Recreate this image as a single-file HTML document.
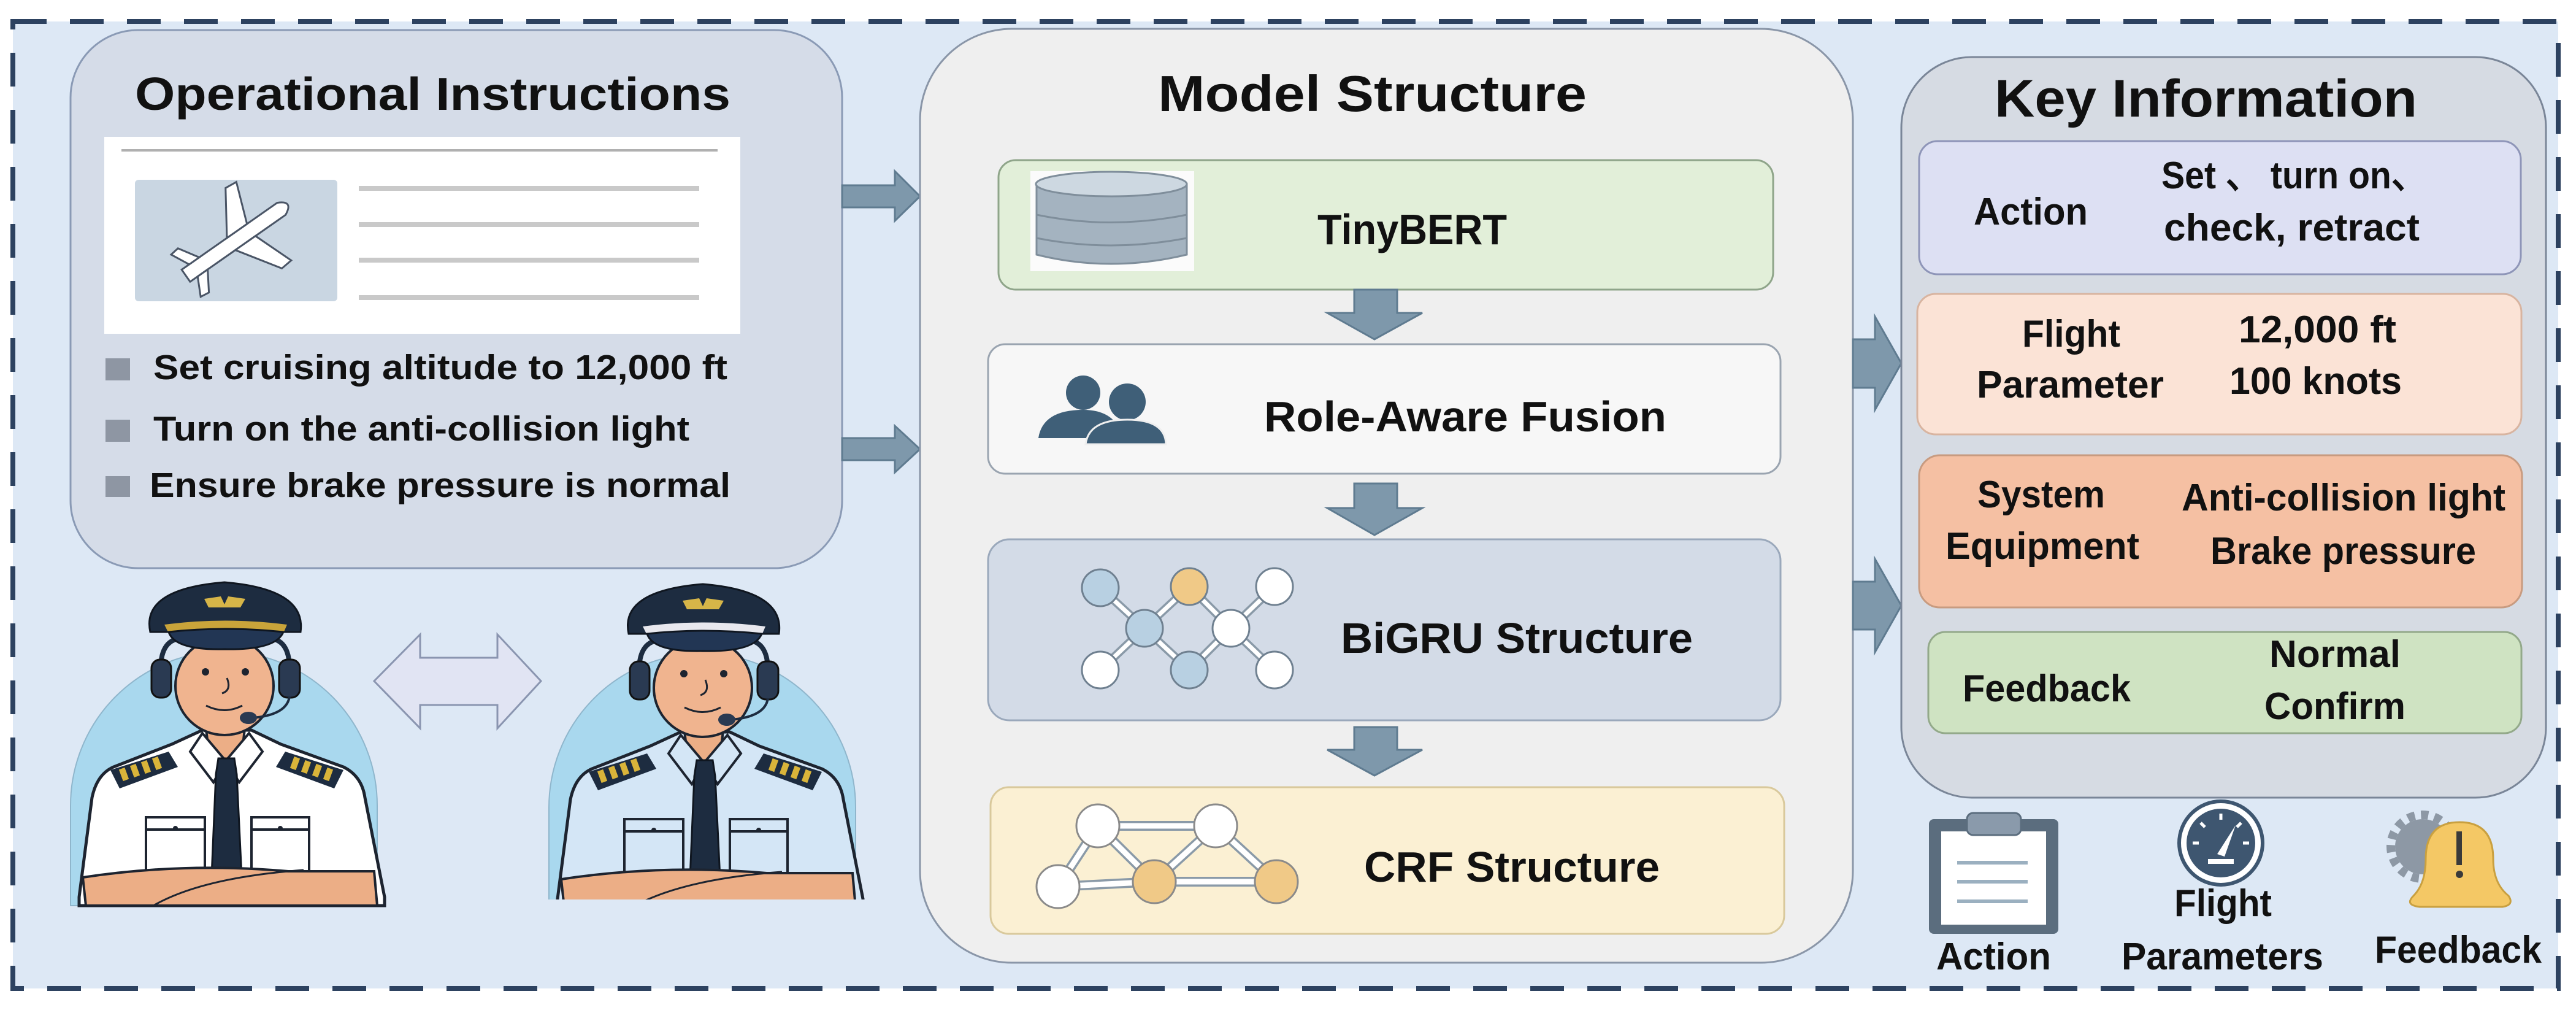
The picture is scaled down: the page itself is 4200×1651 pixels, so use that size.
<!DOCTYPE html>
<html><head><meta charset="utf-8"><style>
html,body{margin:0;padding:0;background:#fff;}
svg{display:block;}
text{font-family:"Liberation Sans",sans-serif;font-weight:bold;fill:#111;}
</style></head><body>
<svg width="4200" height="1651" viewBox="0 0 4200 1651" xmlns="http://www.w3.org/2000/svg">
<defs>
<g id="pilot">
  <path d="M115,1476 L115,1313 A250,251 0 0 1 615,1313 L615,1476 Z" fill="#a9d8ee" stroke="#8fb6cc" stroke-width="2"/>
  <path d="M280,1213 L330,1190 L410,1190 L458,1213 L560,1250 Q590,1265 595,1300 L627,1462 L627,1476 L129,1476 L129,1462 L150,1300 Q158,1262 185,1250 Z" style="fill:var(--shirt,#ffffff)" stroke="#1d2430" stroke-width="5"/>
  <path d="M335,1180 L400,1180 L395,1222 L368,1240 L340,1222 Z" fill="#ecae86" stroke="#1d2430" stroke-width="4"/>
  <path d="M330,1195 L368,1240 L348,1275 L310,1225 Z" style="fill:var(--shirt,#ffffff)" stroke="#1d2430" stroke-width="4"/>
  <path d="M406,1195 L368,1240 L390,1275 L428,1225 Z" style="fill:var(--shirt,#ffffff)" stroke="#1d2430" stroke-width="4"/>
  <path d="M356,1236 L382,1236 L386,1262 L394,1428 L345,1428 L352,1262 Z" fill="#1d2c40" stroke="#0f1620" stroke-width="3"/>
  <path d="M180,1255 L275,1225 L290,1250 L195,1285 Z" fill="#1d2c40"/>
  <path d="M560,1255 L465,1225 L450,1250 L545,1285 Z" fill="#1d2c40"/>
  <g fill="#d9b43a"><rect x="197" y="1252" width="10" height="20" transform="rotate(-20 202 1262)"/><rect x="215" y="1246" width="10" height="20" transform="rotate(-20 220 1256)"/><rect x="233" y="1240" width="10" height="20" transform="rotate(-20 238 1250)"/><rect x="251" y="1234" width="10" height="20" transform="rotate(-20 256 1244)"/>
  <rect x="476" y="1234" width="10" height="20" transform="rotate(20 481 1244)"/><rect x="494" y="1240" width="10" height="20" transform="rotate(20 499 1250)"/><rect x="512" y="1246" width="10" height="20" transform="rotate(20 517 1256)"/><rect x="530" y="1252" width="10" height="20" transform="rotate(20 535 1262)"/></g>
  <g fill="none" stroke="#1d2430" stroke-width="4"><rect x="238" y="1332" width="96" height="90"/><path d="M238,1352 L334,1352"/><rect x="410" y="1332" width="94" height="90"/><path d="M410,1352 L504,1352"/></g>
  <circle cx="286" cy="1350" r="4" fill="#1d2430"/><circle cx="457" cy="1350" r="4" fill="#1d2430"/>
  <path d="M135,1430 Q300,1405 470,1420 L610,1420 L615,1476 L140,1476 Z" fill="#ecae86" stroke="#1d2430" stroke-width="4"/>
  <path d="M250,1476 Q330,1430 495,1418" fill="none" stroke="#1d2430" stroke-width="3"/>
  <ellipse cx="366" cy="1118" rx="80" ry="80" fill="#f0b48f" stroke="#1d2430" stroke-width="4"/>
  <circle cx="335" cy="1095" r="6" fill="#1d2430"/><circle cx="400" cy="1095" r="6" fill="#1d2430"/>
  <path d="M336,1150 Q366,1165 395,1150" fill="none" stroke="#1d2430" stroke-width="3"/>
  <path d="M370,1105 Q378,1125 362,1130" fill="none" stroke="#1d2430" stroke-width="3"/>
  <path d="M262,1090 Q262,1040 300,1040 M472,1090 Q472,1040 435,1040" fill="none" stroke="#1d2c40" stroke-width="8"/>
  <rect x="247" y="1075" width="32" height="62" rx="14" fill="#2a3a52" stroke="#111" stroke-width="3"/>
  <rect x="455" y="1075" width="34" height="62" rx="14" fill="#2a3a52" stroke="#111" stroke-width="3"/>
  <path d="M472,1135 Q468,1165 412,1170" fill="none" stroke="#1d2c40" stroke-width="4"/>
  <ellipse cx="405" cy="1170" rx="14" ry="10" fill="#2a3a52"/>
  <path d="M245,1030 Q230,960 366,949 Q500,960 490,1030 Z" fill="#1d2c40" stroke="#0f1620" stroke-width="3"/>
  <path d="M268,1018 Q366,1005 468,1018 L462,1032 Q366,1020 275,1032 Z" style="fill:var(--band,#c9a43a)"/>
  <path d="M275,1030 Q366,1020 462,1030 Q450,1060 366,1058 Q285,1060 275,1030 Z" fill="#223654" stroke="#0f1620" stroke-width="3"/>
  <path d="M333,976 L360,972 L366,985 L372,972 L400,976 L392,990 L340,990 Z" fill="#d6b548"/>
</g>
</defs>

<rect x="0" y="0" width="4200" height="1651" fill="#ffffff"/>
<rect x="21" y="35" width="4150" height="1576" fill="#dde8f5" stroke="#2d4260" stroke-width="8" stroke-dasharray="55 38"/>

<rect x="115" y="49" width="1258" height="877" rx="110" fill="#d5dce8" stroke="#8a9ab5" stroke-width="3"/>
<text x="220" y="179" font-size="75" textLength="971" lengthAdjust="spacingAndGlyphs">Operational  Instructions</text>
<rect x="170" y="223" width="1037" height="321" fill="#ffffff"/>
<line x1="198" y1="245" x2="1170" y2="245" stroke="#b0b0b0" stroke-width="4"/>
<rect x="220" y="293" width="330" height="198" rx="6" fill="#c9d6e2"/>
<g stroke="#c9c9c9" stroke-width="8"><line x1="585" y1="307" x2="1140" y2="307"/><line x1="585" y1="366" x2="1140" y2="366"/><line x1="585" y1="424" x2="1140" y2="424"/><line x1="585" y1="485" x2="1140" y2="485"/></g>
<g transform="translate(385,392) rotate(-35)" fill="#fff" stroke="#4a5566" stroke-width="3">
  <path d="M-100,-12 L90,-12 Q115,0 90,12 L-100,12 Z"/>
  <path d="M-10,-12 L35,-80 L55,-78 L30,-12 Z"/>
  <path d="M-10,12 L35,80 L55,78 L30,12 Z"/>
  <path d="M-85,-12 L-100,-42 L-85,-44 L-65,-12 Z"/>
  <path d="M-85,12 L-100,42 L-85,44 L-65,12 Z"/>
</g>
<g fill="#8e96a3"><rect x="172" y="584" width="40" height="36"/><rect x="172" y="684" width="40" height="36"/><rect x="172" y="776" width="40" height="34"/></g>
<text x="250" y="618" font-size="57" textLength="936" lengthAdjust="spacingAndGlyphs">Set cruising altitude to 12,000 ft</text>
<text x="250" y="718" font-size="57" textLength="874" lengthAdjust="spacingAndGlyphs">Turn on the anti-collision light</text>
<text x="244" y="810" font-size="57" textLength="947" lengthAdjust="spacingAndGlyphs">Ensure  brake pressure is normal</text>

<g fill="#7e98ab" stroke="#5f7b90" stroke-width="3">
<path d="M1373,302 L1459,302 L1459,279 L1500,320 L1459,360 L1459,338 L1373,338 Z"/>
<path d="M1373,714 L1459,714 L1459,694 L1500,732 L1459,770 L1459,750 L1373,750 Z"/>
</g>

<use href="#pilot"/>
<clipPath id="c2"><rect x="880" y="900" width="560" height="566"/></clipPath>
<g clip-path="url(#c2)"><g transform="translate(780,3)" style="--shirt:#d4e6f6;--band:#e8e8ee"><use href="#pilot"/></g></g>
<path d="M610,1110 L685,1034 L685,1072 L811,1072 L811,1034 L882,1110 L811,1187 L811,1149 L685,1149 L685,1187 Z" fill="#e1e4f3" stroke="#8a95b0" stroke-width="3"/>

<rect x="1500" y="47" width="1521" height="1522" rx="150" fill="#efefef" stroke="#8a96a8" stroke-width="3"/>
<text x="1888" y="181" font-size="83" textLength="699" lengthAdjust="spacingAndGlyphs">Model   Structure</text>
<rect x="1628" y="261" width="1263" height="211" rx="28" fill="#e2efd9" stroke="#8fa58a" stroke-width="3"/>
<rect x="1680" y="279" width="267" height="163" fill="#fbfbfb"/>
<g stroke="#7f8e9b" stroke-width="3">
<path d="M1690,300 L1690,415 Q1810,445 1935,415 L1935,300 Z" fill="#a4b3c0"/>
<path d="M1690,350 Q1810,375 1935,350 M1690,388 Q1810,412 1935,388" fill="none"/>
<ellipse cx="1812" cy="300" rx="123" ry="20" fill="#cdd8e1"/>
</g>
<text x="2148" y="398" font-size="70" textLength="309" lengthAdjust="spacingAndGlyphs">TinyBERT</text>
<g fill="#7e98ab" stroke="#5f7b90" stroke-width="3">
<path d="M2208,472 L2278,472 L2278,510 L2319,510 L2241,553 L2164,510 L2208,510 Z"/>
<path d="M2208,788 L2278,788 L2278,828 L2319,828 L2241,872 L2164,828 L2208,828 Z"/>
<path d="M2208,1185 L2278,1185 L2278,1222 L2319,1222 L2241,1264 L2164,1222 L2208,1222 Z"/>
</g>
<rect x="1611" y="561" width="1292" height="211" rx="28" fill="#f7f7f7" stroke="#9aa4b0" stroke-width="3"/>
<g fill="#3f5f78">
<circle cx="1766" cy="640" r="28"/><path d="M1693,714 Q1700,668 1766,668 Q1820,668 1830,714 Z"/>
<circle cx="1838" cy="655" r="30"/><path d="M1770,724 Q1775,684 1838,684 Q1900,684 1901,724 Z" stroke="#efefef" stroke-width="3"/>
</g>
<text x="2061" y="703" font-size="70" textLength="656" lengthAdjust="spacingAndGlyphs">Role-Aware  Fusion</text>
<rect x="1611" y="879" width="1292" height="295" rx="35" fill="#d3dbe7" stroke="#9aa8bb" stroke-width="3"/>
<g fill="none" stroke="#8a9aa8" stroke-width="14" stroke-linecap="round">
<path d="M1794,958 L1866,1024 L1939,956 M2078,956 L2007,1024 L1939,956 M1866,1024 L1794,1092 M1866,1024 L1939,1092 L2007,1024 L2078,1092"/>
</g>
<g fill="none" stroke="#ffffff" stroke-width="7" stroke-linecap="round">
<path d="M1794,958 L1866,1024 L1939,956 M2078,956 L2007,1024 L1939,956 M1866,1024 L1794,1092 M1866,1024 L1939,1092 L2007,1024 L2078,1092"/>
</g>
<g stroke="#6f8090" stroke-width="3">
<circle cx="1794" cy="958" r="30" fill="#b8d0e2"/><circle cx="1939" cy="956" r="30" fill="#f0c987"/><circle cx="2078" cy="956" r="30" fill="#fff"/>
<circle cx="1866" cy="1024" r="30" fill="#b8d0e2"/><circle cx="2007" cy="1024" r="30" fill="#fff"/>
<circle cx="1794" cy="1092" r="30" fill="#fff"/><circle cx="1939" cy="1092" r="30" fill="#b8d0e2"/><circle cx="2078" cy="1092" r="30" fill="#fff"/>
</g>
<text x="2186" y="1064" font-size="70" textLength="574" lengthAdjust="spacingAndGlyphs">BiGRU  Structure</text>
<rect x="1615" y="1283" width="1294" height="239" rx="30" fill="#fbf0d3" stroke="#d9c99c" stroke-width="3"/>
<g fill="none" stroke="#8a9aa8" stroke-width="16" stroke-linecap="round">
<path d="M1790,1346 L1982,1346 M1790,1346 L1725,1445 M1790,1346 L1882,1437 M1982,1346 L1882,1437 M1982,1346 L2081,1437 M1725,1445 L1882,1437 L2081,1437"/>
</g>
<g fill="none" stroke="#ffffff" stroke-width="9" stroke-linecap="round">
<path d="M1790,1346 L1982,1346 M1790,1346 L1725,1445 M1790,1346 L1882,1437 M1982,1346 L1882,1437 M1982,1346 L2081,1437 M1725,1445 L1882,1437 L2081,1437"/>
</g>
<g stroke="#8a8a8a" stroke-width="3">
<circle cx="1790" cy="1346" r="35" fill="#fff"/><circle cx="1982" cy="1346" r="35" fill="#fff"/>
<circle cx="1725" cy="1445" r="35" fill="#fff"/><circle cx="1882" cy="1437" r="35" fill="#f0c987"/><circle cx="2081" cy="1437" r="35" fill="#f0c987"/>
</g>
<text x="2224" y="1437" font-size="70" textLength="482" lengthAdjust="spacingAndGlyphs">CRF  Structure</text>

<g fill="#7e98ab" stroke="#5f7b90" stroke-width="3">
<path d="M3021,553 L3057,553 L3057,516 L3100,592 L3057,668 L3057,632 L3021,632 Z"/>
<path d="M3021,948 L3057,948 L3057,911 L3100,987 L3057,1063 L3057,1026 L3021,1026 Z"/>
</g>

<rect x="3100" y="93" width="1051" height="1207" rx="115" fill="#d6dbe3" stroke="#7a8698" stroke-width="3"/>
<text x="3252" y="190" font-size="86" textLength="689" lengthAdjust="spacingAndGlyphs">Key   Information</text>
<rect x="3129" y="230" width="981" height="217" rx="30" fill="#dde0f3" stroke="#8e95b8" stroke-width="3"/>
<text x="3218" y="366" font-size="62" textLength="186" lengthAdjust="spacingAndGlyphs">Action</text>
<text x="3524" y="307" font-size="62" textLength="432" lengthAdjust="spacingAndGlyphs">Set 、 turn on、</text>
<text x="3528" y="392" font-size="62" textLength="417" lengthAdjust="spacingAndGlyphs">check, retract</text>
<rect x="3126" y="479" width="985" height="229" rx="30" fill="#fbe3d6" stroke="#d8b4a0" stroke-width="3"/>
<text x="3297" y="565" font-size="62" textLength="160" lengthAdjust="spacingAndGlyphs">Flight</text>
<text x="3223" y="648" font-size="62" textLength="305" lengthAdjust="spacingAndGlyphs">Parameter</text>
<text x="3650" y="558" font-size="62" textLength="257" lengthAdjust="spacingAndGlyphs">12,000 ft</text>
<text x="3635" y="642" font-size="62" textLength="281" lengthAdjust="spacingAndGlyphs">100 knots</text>
<rect x="3129" y="742" width="983" height="248" rx="34" fill="#f5c0a3" stroke="#c89b80" stroke-width="3"/>
<text x="3224" y="827" font-size="62" textLength="208" lengthAdjust="spacingAndGlyphs">System</text>
<text x="3172" y="911" font-size="62" textLength="316" lengthAdjust="spacingAndGlyphs">Equipment</text>
<text x="3557" y="832" font-size="62" textLength="528" lengthAdjust="spacingAndGlyphs">Anti-collision light</text>
<text x="3604" y="919" font-size="62" textLength="433" lengthAdjust="spacingAndGlyphs">Brake pressure</text>
<rect x="3144" y="1030" width="967" height="165" rx="28" fill="#cfe3c2" stroke="#93a98a" stroke-width="3"/>
<text x="3200" y="1143" font-size="62" textLength="274" lengthAdjust="spacingAndGlyphs">Feedback</text>
<text x="3700" y="1087" font-size="62" textLength="214" lengthAdjust="spacingAndGlyphs">Normal</text>
<text x="3692" y="1172" font-size="62" textLength="230" lengthAdjust="spacingAndGlyphs">Confirm</text>

<rect x="3145" y="1335" width="211" height="187" rx="8" fill="#5b6d7e"/>
<rect x="3165" y="1355" width="171" height="152" fill="#ffffff"/>
<rect x="3207" y="1325" width="88" height="36" rx="10" fill="#8a9aab" stroke="#5b6d7e" stroke-width="3"/>
<g stroke="#9bb0c0" stroke-width="6"><line x1="3191" y1="1406" x2="3306" y2="1406"/><line x1="3191" y1="1437" x2="3306" y2="1437"/><line x1="3191" y1="1469" x2="3306" y2="1469"/></g>
<text x="3157" y="1580" font-size="62" textLength="187" lengthAdjust="spacingAndGlyphs">Action</text>

<circle cx="3621" cy="1374" r="68" fill="#ffffff" stroke="#3e5670" stroke-width="6"/>
<circle cx="3621" cy="1374" r="56" fill="#3e5670"/>
<g stroke="#fff" stroke-width="5"><line x1="3621" y1="1326" x2="3621" y2="1336"/><line x1="3575" y1="1374" x2="3585" y2="1374"/><line x1="3657" y1="1374" x2="3667" y2="1374"/><line x1="3588" y1="1341" x2="3595" y2="1348"/><line x1="3654" y1="1341" x2="3647" y2="1348"/></g>
<path d="M3615,1392 L3645,1345 L3627,1396 Z" fill="#fff"/>
<rect x="3600" y="1400" width="42" height="8" fill="#fff"/>
<text x="3545" y="1493" font-size="62" textLength="159" lengthAdjust="spacingAndGlyphs">Flight</text>
<text x="3459" y="1580" font-size="62" textLength="329" lengthAdjust="spacingAndGlyphs">Parameters</text>

<circle cx="3950" cy="1380" r="45" fill="#8d98a5"/>
<circle cx="3950" cy="1380" r="52" fill="none" stroke="#8d98a5" stroke-width="14" stroke-dasharray="12 10"/>
<path d="M3935,1460 Q3955,1440 3955,1400 Q3955,1340 4010,1340 Q4065,1340 4065,1400 Q4065,1440 4090,1460 Q4100,1475 4080,1478 L3945,1478 Q3920,1475 3935,1460 Z" fill="#f4c865" stroke="#c9a040" stroke-width="3"/>
<rect x="4005" y="1355" width="9" height="55" fill="#3a3a3a"/><circle cx="4010" cy="1425" r="6" fill="#3a3a3a"/>
<text x="3872" y="1569" font-size="62" textLength="272" lengthAdjust="spacingAndGlyphs">Feedback</text>
</svg>
</body></html>
